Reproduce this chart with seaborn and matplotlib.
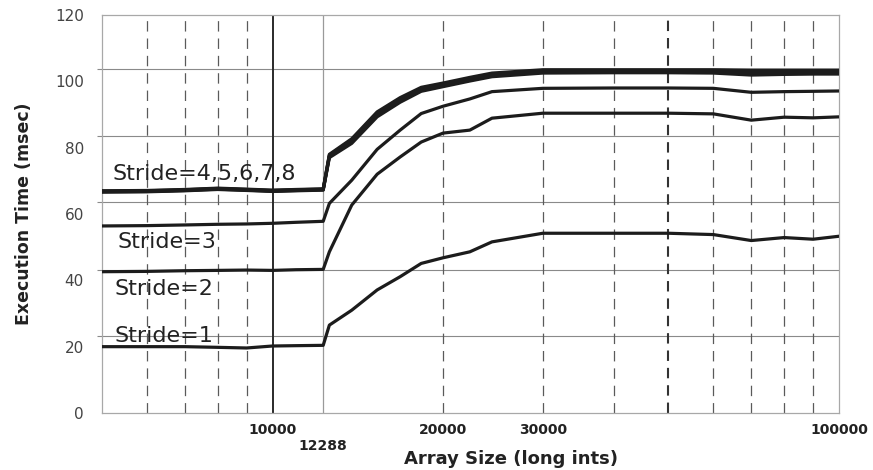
import numpy as np
import pandas as pd
import matplotlib
matplotlib.use('Agg')
import matplotlib.pyplot as plt
from matplotlib.ticker import FixedLocator, NullFormatter
import seaborn as sns

# Array sizes (long ints) measured
sizes = [5000, 6000, 7000, 8000, 9000, 10000, 11000, 12288, 12600, 13800, 15300,
         16800, 18300, 20000, 22300, 24400, 30000, 40000, 50000, 60000, 70000,
         80000, 90000, 100000]

# Execution time (msec) per stride
stride_1 = [20.0, 20.0, 20.0, 19.8, 19.6, 20.2, 20.3, 20.4, 26.5, 31.0, 37.1, 41.1,
            45.1, 46.8, 48.6, 51.6, 54.2, 54.2, 54.2, 53.8, 52.0, 52.9, 52.4, 53.3]
stride_2 = [42.6, 42.7, 42.9, 43.0, 43.1, 43.0, 43.2, 43.3, 48.6, 62.7, 72.0, 77.2,
            81.7, 84.4, 85.3, 88.9, 90.4, 90.4, 90.4, 90.2, 88.3, 89.2, 89.0, 89.3]
stride_3 = [56.4, 56.5, 56.7, 56.9, 57.0, 57.2, 57.5, 57.8, 63.2, 70.2, 79.5, 85.3,
            90.3, 92.5, 94.7, 96.9, 97.9, 98.0, 98.0, 97.9, 96.7, 96.9, 97.0, 97.1]
stride_4 = [66.6, 66.7, 67.0, 67.4, 67.1, 66.8, 67.0, 67.2, 77.0, 81.3, 89.3, 93.7,
            97.0, 98.4, 100.1, 101.4, 102.5, 102.6, 102.6, 102.5, 101.9, 102.1, 102.2, 102.2]
stride_5 = [66.7, 66.8, 67.1, 67.5, 67.2, 66.9, 67.1, 67.3, 77.3, 81.7, 89.7, 94.1,
            97.3, 98.7, 100.4, 101.7, 102.9, 102.9, 102.9, 102.9, 102.5, 102.6, 102.6, 102.6]
stride_6 = [66.8, 66.9, 67.2, 67.6, 67.3, 67.0, 67.2, 67.4, 77.5, 82.0, 90.0, 94.4,
            97.6, 98.9, 100.6, 101.9, 103.1, 103.1, 103.1, 103.1, 102.9, 102.9, 102.9, 102.9]
stride_7 = [66.9, 67.0, 67.3, 67.7, 67.4, 67.1, 67.3, 67.5, 77.8, 82.4, 90.5, 94.8,
            97.9, 99.2, 100.9, 102.2, 103.3, 103.3, 103.3, 103.3, 103.2, 103.2, 103.2, 103.2]
stride_8 = [67.0, 67.1, 67.4, 67.8, 67.5, 67.2, 67.4, 67.6, 78.0, 82.7, 90.8, 95.1,
            98.2, 99.5, 101.2, 102.5, 103.5, 103.5, 103.5, 103.5, 103.4, 103.4, 103.4, 103.4]

# Axis ticks and reference lines
x_ticks = [10000, 12288, 20000, 30000, 100000]
x_tick_labels = ['10000', '\n12288', '20000', '30000', '100000']
y_ticks = [0, 20, 40, 60, 80, 100, 120]
grid_y = [23.3, 43.2, 63.5, 83.5, 103.7]
dashed_x = [6000, 7000, 8000, 9000, 20000, 30000, 40000, 60000, 70000, 80000, 90000]

series = {
    'Stride=1': stride_1, 'Stride=2': stride_2, 'Stride=3': stride_3,
    'Stride=4': stride_4, 'Stride=5': stride_5, 'Stride=6': stride_6,
    'Stride=7': stride_7, 'Stride=8': stride_8,
}
df = pd.concat(
    [pd.DataFrame({'size': sizes, 'time': vals, 'stride': name}) for name, vals in series.items()],
    ignore_index=True)

sns.set_style('white')
plt.rcParams['font.family'] = ['DejaVu Sans']
plt.rcParams['lines.scale_dashes'] = False

fig = plt.figure(figsize=(8.73, 4.70), dpi=100)
ax = fig.add_axes([0.1168, 0.1213, 0.8443, 0.8467])

# Reference lines
for xv in dashed_x:
    ax.axvline(xv, color='#5a5a5a', lw=0.9, dashes=(7.5, 5), zorder=1)
ax.axvline(50000, color='#333333', lw=1.5, dashes=(7.5, 5), zorder=1)
ax.axvline(10000, color='#2a2a2a', lw=1.4, zorder=1)
ax.axvline(12288, color='#9a9a9a', lw=0.9, zorder=1)

sns.lineplot(data=df, x='size', y='time', hue='stride', palette=['#1c1c1c'] * 8,
             legend=False, linewidth=2.3, ax=ax, zorder=3)

ax.set_xscale('log')
ax.set_xlim(5000, 100000)
ax.set_ylim(0, 120)

ax.xaxis.set_major_locator(FixedLocator(x_ticks))
ax.set_xticklabels(x_tick_labels, fontweight='bold', fontsize=10, color='#222222')
ax.xaxis.set_minor_locator(FixedLocator([]))
ax.xaxis.set_minor_formatter(NullFormatter())
ax.tick_params(axis='x', which='major', length=0, pad=7)

ax.yaxis.set_major_locator(FixedLocator(y_ticks))
ax.set_yticklabels([str(v) for v in y_ticks], fontsize=11, color='#444444')
ax.yaxis.set_minor_locator(FixedLocator(grid_y))
ax.tick_params(axis='y', which='major', length=0, pad=13)
ax.tick_params(axis='y', which='minor', length=3.6, width=0.8, color='#8a8a8a', left=True)
ax.yaxis.grid(True, which='minor', color='#8a8a8a', lw=0.8, zorder=1)
ax.set_axisbelow(True)

for side in ['left', 'right', 'top', 'bottom']:
    ax.spines[side].set_color('#a8a8a8')
    ax.spines[side].set_linewidth(0.9)

ax.set_xlabel('Array Size (long ints)', fontweight='bold', fontsize=13, color='#222222')
ax.set_ylabel('Execution Time (msec)', fontweight='bold', fontsize=12.5, color='#222222')
ax.xaxis.set_label_coords(0.555, -0.092)
ax.yaxis.set_label_coords(-0.094, 0.5)

# Curve labels
ax.text(5224, 70.2, 'Stride=4,5,6,7,8', fontsize=16, color='#222222', va='baseline', zorder=4)
ax.text(5330, 49.7, 'Stride=3', fontsize=16, color='#222222', va='baseline', zorder=4)
ax.text(5265, 35.6, 'Stride=2', fontsize=16, color='#222222', va='baseline', zorder=4)
ax.text(5265, 21.4, 'Stride=1', fontsize=16, color='#222222', va='baseline', zorder=4)

fig.savefig('out.png', dpi=100)
